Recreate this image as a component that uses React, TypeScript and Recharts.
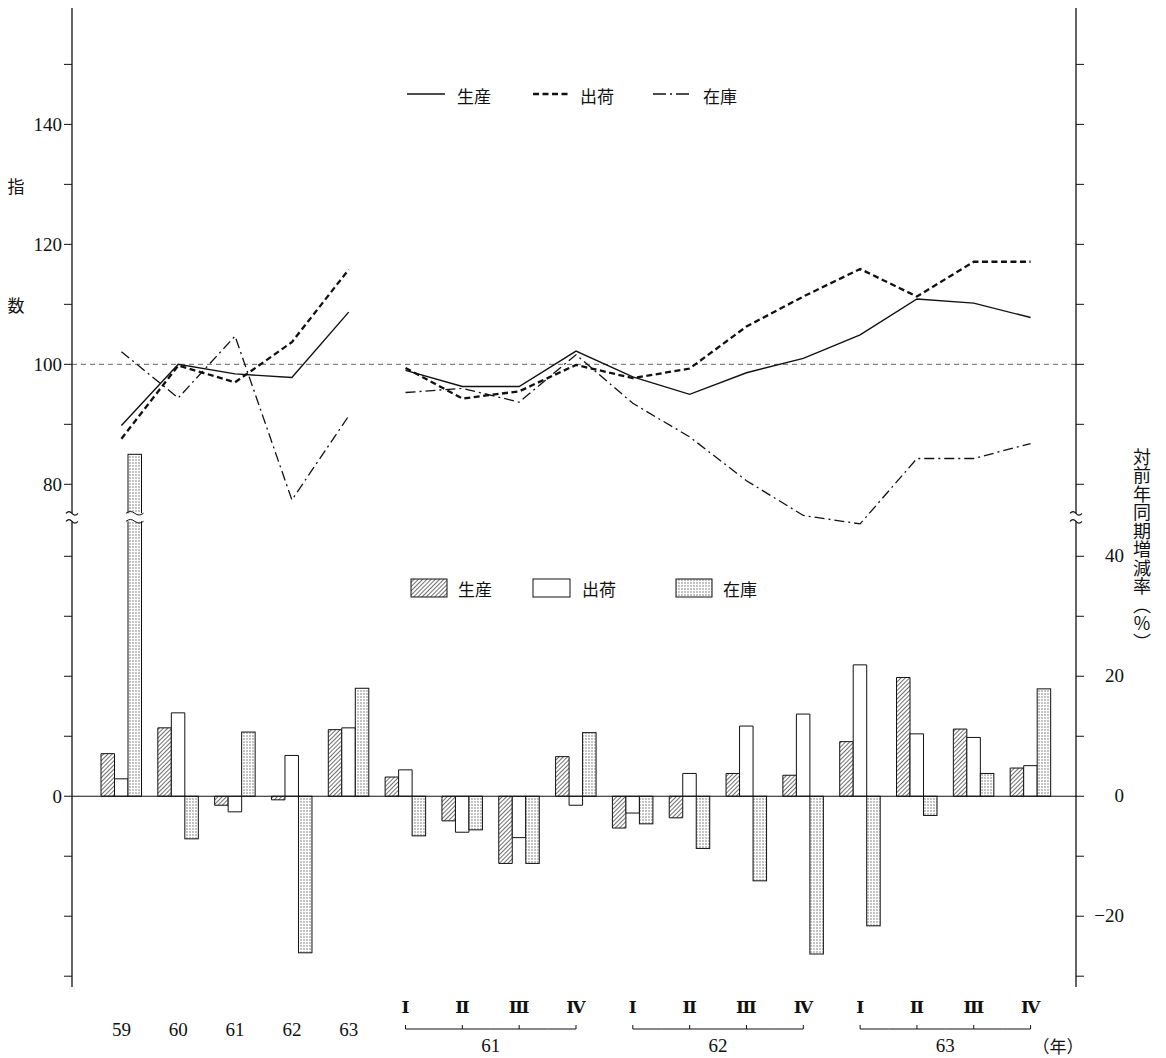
import React from "react";
import { ComposedChart, Bar, Line, XAxis, YAxis, ReferenceLine } from "recharts";

// categories
const annualYears = ["59", "60", "61", "62", "63"];
const quarterYears = ["61", "62", "63"];
const quarterNames = ["Ⅰ", "Ⅱ", "Ⅲ", "Ⅳ"];

// 指数 (annual 59-63)
const prodIndexYear = [89.8, 100.0, 98.4, 97.8, 108.7];
const shipIndexYear = [87.6, 99.8, 97.0, 103.7, 115.8];
const invIndexYear = [102.1, 94.4, 104.7, 77.4, 91.4];

// 指数 (quarterly 61Ⅰ - 63Ⅳ)
const prodIndexQuarter = [99.0, 96.3, 96.3, 102.2, 97.9, 95.0, 98.6, 101.0, 104.9, 110.9, 110.2, 107.8];
const shipIndexQuarter = [99.4, 94.3, 95.5, 99.9, 97.7, 99.3, 106.3, 111.3, 115.9, 111.3, 117.1, 117.1];
const invIndexQuarter = [95.3, 96.0, 93.7, 101.6, 93.5, 87.9, 80.6, 74.8, 73.4, 84.3, 84.3, 86.8];

// 対前年同期増減率 (%), 59-63 then 61Ⅰ - 63Ⅳ
const prodRate = [7.1, 11.4, -1.5, -0.6, 11.1, 3.2, -4.1, -11.2, 6.6, -5.3, -3.6, 3.8, 3.5, 9.1, 19.8, 11.2, 4.7];
const shipRate = [2.9, 13.9, -2.6, 6.8, 11.4, 4.4, -6.0, -6.9, -1.5, -2.8, 3.8, 11.7, 13.7, 21.9, 10.4, 9.8, 5.1];
const invRate = [57.0, -7.1, 10.7, -26.1, 18.0, -6.6, -5.6, -11.2, 10.6, -4.6, -8.7, -14.1, -26.3, -21.6, -3.2, 3.8, 17.9];

// ticks
const indexTicks = [150, 140, 130, 120, 110, 100, 90, 80];
const indexLabels = [140, 120, 100, 80];
const rateTicks = [40, 30, 20, 10, 0, -10, -20, -30];
const rateLabels = [40, 20, 0, -20];

// layout
const W = 1166;
const H = 1058;
const PLOT_L = 72;
const PLOT_R = 1076;
const PLOT_T = 8;
const PLOT_B = 987;
const PAD_L = 21;
const PAD_R = 17;
const BAND = (PLOT_R - PLOT_L - PAD_L - PAD_R) / (annualYears.length + quarterYears.length * 4);
const IDX_OFFSET = 28; // both panels share one pixel scale: index = rate + 28
const RATE_DOMAIN: [number, number] = [-31.8, 131.4];
const IDX_DOMAIN: [number, number] = [RATE_DOMAIN[0] + IDX_OFFSET, RATE_DOMAIN[1] + IDX_OFFSET];
const BREAK_RATE = 46.5;
const SERIF = "'Liberation Serif', 'DejaVu Serif', serif";
const JP = "'Noto Sans CJK JP', sans-serif";
const INK = "#111";

const yOfRate = (v: number) =>
  PLOT_T + ((RATE_DOMAIN[1] - v) * (PLOT_B - PLOT_T)) / (RATE_DOMAIN[1] - RATE_DOMAIN[0]);

type Row = {
  key: string;
  kind: "year" | "quarter";
  label: string;
  year: string;
  qi: number;
  [k: string]: any;
};

const rows: Row[] = [
  ...annualYears.map((y) => ({ key: y, kind: "year" as const, label: y, year: y, qi: -1 })),
  ...quarterYears.flatMap((y) =>
    quarterNames.map((q, qi) => ({ key: `${y}-${qi}`, kind: "quarter" as const, label: q, year: y, qi }))
  ),
];

const data = rows.map((r, i) => {
  const q = i - annualYears.length;
  return {
    ...r,
    prodA: q < 0 ? prodIndexYear[i] : null,
    shipA: q < 0 ? shipIndexYear[i] : null,
    invA: q < 0 ? invIndexYear[i] : null,
    prodQ: q >= 0 ? prodIndexQuarter[q] : null,
    shipQ: q >= 0 ? shipIndexQuarter[q] : null,
    invQ: q >= 0 ? invIndexQuarter[q] : null,
    prodRate: prodRate[i],
    shipRate: shipRate[i],
    invRate: invRate[i],
  };
});

const rowByKey: Record<string, Row> = Object.fromEntries(rows.map((r) => [r.key, r]));

const tilde = (x0: number, w: number, y: number) =>
  `M ${x0} ${y} q ${w / 4} -3.5 ${w / 2} 0 t ${w / 2} 0`;

const labelStyle = { fontSize: 19, fontFamily: SERIF, fill: INK };

const XTick = (props: any) => {
  const { x, payload } = props;
  const row = rowByKey[payload.value];
  if (!row) return null;
  if (row.kind === "year") {
    return (
      <text x={x} y={1036} textAnchor="middle" style={labelStyle}>
        {row.label}
      </text>
    );
  }
  const half = BAND / 2;
  const x1 = row.qi === 0 ? x : x - half;
  const x2 = row.qi === 3 ? x : x + half;
  const by = 1029;
  return (
    <g>
      <text x={x} y={1013} textAnchor="middle" style={{ ...labelStyle, fontSize: 17, fontWeight: 600 }}>
        {row.label}
      </text>
      <line x1={x1} x2={x2} y1={by} y2={by} stroke={INK} strokeWidth={1} />
      <line x1={x} x2={x} y1={by - 4} y2={by} stroke={INK} strokeWidth={1} />
      {row.qi === 1 && (
        <text x={x + half} y={1052} textAnchor="middle" style={labelStyle}>
          {row.year}
        </text>
      )}
    </g>
  );
};

const RateTick = (props: any) => {
  const { y, payload } = props;
  const v = payload.value;
  if (!rateLabels.includes(v)) return null;
  return (
    <text x={1124} y={y} dy={6} textAnchor="end" style={labelStyle}>
      {v < 0 ? `−${Math.abs(v)}` : String(v)}
    </text>
  );
};

const idxTickLabel = (v: number) => {
  if (v >= 75) return indexLabels.includes(v) ? String(v) : "";
  return v === IDX_OFFSET ? "0" : "";
};

const InvShape = (props: any) => {
  const { x, y, width, height, payload } = props;
  const top = Math.min(y, y + height);
  const h = Math.abs(height);
  const rect = (
    <rect x={x} y={top} width={width} height={h} fill="url(#dots)" stroke={INK} strokeWidth={1} />
  );
  if (!payload || payload.invRate <= BREAK_RATE) return <g>{rect}</g>;
  const yb = yOfRate(BREAK_RATE);
  return (
    <g>
      {rect}
      <rect x={x - 1} y={yb - 4} width={width + 2} height={8} fill="#fff" />
      <path d={tilde(x - 2, width + 4, yb - 4)} fill="none" stroke={INK} strokeWidth={1} />
      <path d={tilde(x - 2, width + 4, yb + 4)} fill="none" stroke={INK} strokeWidth={1} />
    </g>
  );
};

const AxisWithBreak = ({ x }: { x: number }) => {
  const yb = yOfRate(BREAK_RATE);
  return (
    <g>
      <line x1={x} x2={x} y1={PLOT_T} y2={yb - 4} stroke={INK} strokeWidth={1.3} />
      <path d={tilde(x - 6, 12, yb - 4)} fill="none" stroke={INK} strokeWidth={1.2} />
      <path d={tilde(x - 6, 12, yb + 4)} fill="none" stroke={INK} strokeWidth={1.2} />
      <line x1={x} x2={x} y1={yb + 4} y2={PLOT_B} stroke={INK} strokeWidth={1.3} />
    </g>
  );
};

const legendText = (x: number, y: number, s: string) => (
  <text x={x} y={y} fontSize={17} fontFamily={JP} fill={INK} dominantBaseline="central">
    {s}
  </text>
);

export default function App() {
  return (
    <div style={{ position: "absolute", left: 0, top: 0, width: W, height: H, background: "#fff" }}>
      <svg width={0} height={0} style={{ position: "absolute" }}>
        <defs>
          <pattern id="hatch" patternUnits="userSpaceOnUse" width={3} height={3} patternTransform="rotate(45)">
            <rect width={3} height={3} fill="#fff" />
            <line x1={0} y1={0} x2={0} y2={3} stroke="#222" strokeWidth={1.3} />
          </pattern>
          <pattern id="dots" patternUnits="userSpaceOnUse" width={3} height={3}>
            <rect width={3} height={3} fill="#fff" />
            <circle cx={1} cy={1} r={0.65} fill="#555" />
          </pattern>
        </defs>
      </svg>

      <ComposedChart
        width={W}
        height={H}
        data={data}
        margin={{ top: PLOT_T, right: W - PLOT_R - 60, bottom: H - PLOT_B - 60, left: PLOT_L - 60 }}
        barGap={0}
      >
        <XAxis
          dataKey="key"
          type="category"
          padding={{ left: PAD_L, right: PAD_R }}
          axisLine={false}
          tickLine={false}
          interval={0}
          height={60}
          tick={<XTick />}
        />
        <YAxis
          yAxisId="idx"
          orientation="left"
          width={60}
          domain={IDX_DOMAIN}
          allowDataOverflow
          ticks={[...indexTicks, ...rateTicks.map((v) => v + IDX_OFFSET)]}
          interval={0}
          tickFormatter={idxTickLabel}
          axisLine={false}
          tickSize={8}
          stroke={INK}
          tick={{ fontSize: 19, fontFamily: SERIF, fill: INK }}
        />
        <YAxis
          yAxisId="pct"
          orientation="right"
          width={60}
          domain={RATE_DOMAIN}
          allowDataOverflow
          ticks={[...rateTicks, ...indexTicks.map((v) => v - IDX_OFFSET)]}
          interval={0}
          axisLine={false}
          tickSize={8}
          stroke={INK}
          tick={<RateTick />}
        />

        <ReferenceLine yAxisId="idx" y={100} stroke="#666" strokeDasharray="5 4" strokeWidth={1} />
        <ReferenceLine yAxisId="pct" y={0} stroke={INK} strokeWidth={1} />

        <Bar yAxisId="pct" dataKey="prodRate" name="生産" barSize={13.5} fill="url(#hatch)" stroke={INK} strokeWidth={1} isAnimationActive={false} />
        <Bar yAxisId="pct" dataKey="shipRate" name="出荷" barSize={13.5} fill="#fff" stroke={INK} strokeWidth={1} isAnimationActive={false} />
        <Bar yAxisId="pct" dataKey="invRate" name="在庫" barSize={13.5} shape={<InvShape />} isAnimationActive={false} />

        <Line yAxisId="idx" dataKey="prodA" stroke={INK} strokeWidth={1.4} dot={false} isAnimationActive={false} />
        <Line yAxisId="idx" dataKey="prodQ" stroke={INK} strokeWidth={1.4} dot={false} isAnimationActive={false} />
        <Line yAxisId="idx" dataKey="shipA" stroke={INK} strokeWidth={2.3} strokeDasharray="6 3.5" dot={false} isAnimationActive={false} />
        <Line yAxisId="idx" dataKey="shipQ" stroke={INK} strokeWidth={2.3} strokeDasharray="6 3.5" dot={false} isAnimationActive={false} />
        <Line yAxisId="idx" dataKey="invA" stroke={INK} strokeWidth={1.3} strokeDasharray="10 4 2 4" dot={false} isAnimationActive={false} />
        <Line yAxisId="idx" dataKey="invQ" stroke={INK} strokeWidth={1.3} strokeDasharray="10 4 2 4" dot={false} isAnimationActive={false} />
      </ComposedChart>

      <svg width={W} height={H} style={{ position: "absolute", left: 0, top: 0, pointerEvents: "none" }}>
        <AxisWithBreak x={PLOT_L} />
        <AxisWithBreak x={PLOT_R} />

        {/* line legend */}
        <line x1={407} x2={445} y1={94} y2={94} stroke={INK} strokeWidth={1.4} />
        {legendText(457, 95, "生産")}
        <line x1={533} x2={568} y1={94} y2={94} stroke={INK} strokeWidth={2.3} strokeDasharray="6 3.5" />
        {legendText(580, 95, "出荷")}
        <line x1={653} x2={692} y1={94} y2={94} stroke={INK} strokeWidth={1.3} strokeDasharray="13 4 2 4" />
        {legendText(703, 95, "在庫")}

        {/* bar legend */}
        <rect x={411} y={579} width={36} height={18} fill="url(#hatch)" stroke={INK} strokeWidth={1} />
        {legendText(458, 588, "生産")}
        <rect x={533} y={579} width={37} height={18} fill="#fff" stroke={INK} strokeWidth={1} />
        {legendText(582, 588, "出荷")}
        <rect x={676} y={579} width={36} height={18} fill="url(#dots)" stroke={INK} strokeWidth={1} />
        {legendText(723, 588, "在庫")}

        {/* left axis title */}
        <text x={16} y={185} textAnchor="middle" dominantBaseline="central" fontSize={17} fontFamily={JP} fill={INK}>指</text>
        <text x={16} y={304} textAnchor="middle" dominantBaseline="central" fontSize={17} fontFamily={JP} fill={INK}>数</text>

        <text x={1058} y={1045} textAnchor="middle" dominantBaseline="central" fontSize={17} fontFamily={JP} fill={INK}>（年）</text>
      </svg>

      <div
        style={{
          position: "absolute",
          left: 1133,
          top: 448,
          writingMode: "vertical-rl",
          fontSize: 18,
          lineHeight: 1,
          letterSpacing: 0.5,
          fontFamily: JP,
          color: INK,
        }}
      >
        対前年同期増減率（％）
      </div>
    </div>
  );
}
